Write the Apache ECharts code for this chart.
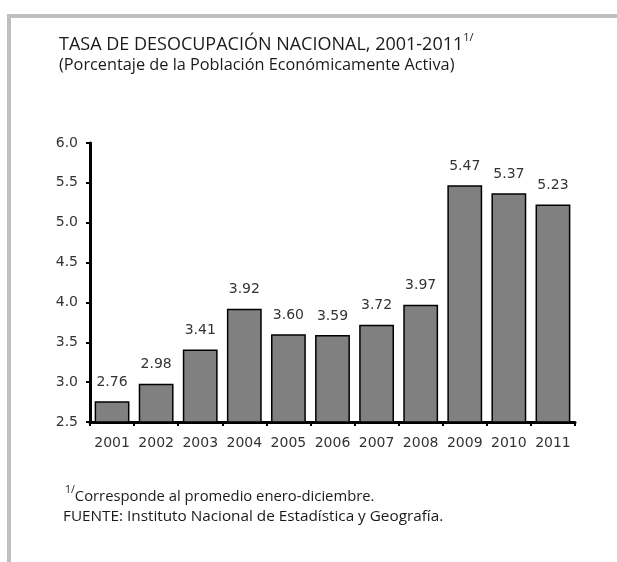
<!DOCTYPE html>
<html>
<head>
<meta charset="utf-8">
<script src="https://cdn.jsdelivr.net/npm/echarts@6/dist/echarts.min.js"></script>
<style>
html,body{margin:0;padding:0;background:#fff;}
#chart{width:617px;height:562px;}
</style>
</head>
<body>
<div id="chart"></div>
<script>
const categories = ['2001','2002','2003','2004','2005','2006','2007','2008','2009','2010','2011'];
const values = [2.76, 2.98, 3.41, 3.92, 3.60, 3.59, 3.72, 3.97, 5.47, 5.37, 5.23];
const titleText = 'TASA DE DESOCUPACIÓN NACIONAL, 2001-2011';
const subtitleText = '(Porcentaje de la Población Económicamente Activa)';
const noteText = 'Corresponde al promedio enero-diciembre.';
const sourceText = 'FUENTE: Instituto Nacional de Estadística y Geografía.';
const supText = '1/';

const textFont = '"Open Sans", sans-serif';
const axisFont = '"DejaVu Sans", sans-serif';

const chart = echarts.init(document.getElementById('chart'), null, {renderer: 'canvas'});
chart.setOption({
  backgroundColor: '#ffffff',
  animation: false,
  title: [
    {
      text: '{m|' + titleText + '}{s|' + supText + '}',
      left: 59, top: 32, padding: 0,
      textStyle: {
        fontWeight: 'normal',
        rich: {
          m: {fontFamily: textFont, fontSize: 18, fontWeight: 'normal', color: '#1a1a1a', lineHeight: 22, verticalAlign: 'bottom'},
          s: {fontFamily: textFont, fontSize: 11, fontWeight: 'normal', color: '#1a1a1a', lineHeight: 22, verticalAlign: 'top'}
        }
      }
    },
    {
      text: subtitleText,
      left: 59, top: 55, padding: 0,
      textStyle: {fontFamily: textFont, fontSize: 16.3, lineHeight: 20, fontWeight: 'normal', color: '#1a1a1a'}
    },
    {
      text: '{s|' + supText + '}{m|' + noteText + '}',
      left: 65, top: 485, padding: 0,
      textStyle: {
        fontWeight: 'normal',
        rich: {
          m: {fontFamily: textFont, fontSize: 14.8, fontWeight: 'normal', color: '#1a1a1a', lineHeight: 19, verticalAlign: 'bottom'},
          s: {fontFamily: textFont, fontSize: 10.5, fontWeight: 'normal', color: '#1a1a1a', lineHeight: 19, verticalAlign: 'top'}
        }
      }
    },
    {
      text: sourceText,
      left: 63, top: 507, padding: 0,
      textStyle: {fontFamily: textFont, fontSize: 15.3, lineHeight: 19, fontWeight: 'normal', color: '#1a1a1a'}
    }
  ],
  graphic: [
    {type: 'rect', shape: {x: 7, y: 14, width: 610, height: 4}, style: {fill: '#c0c0c0'}, silent: true},
    {type: 'rect', shape: {x: 7, y: 14, width: 4, height: 548}, style: {fill: '#c0c0c0'}, silent: true}
  ],
  grid: {left: 90, right: 42, top: 143, bottom: 140, containLabel: false},
  xAxis: {
    type: 'category',
    data: categories,
    axisLine: {lineStyle: {color: '#000', width: 3}},
    axisTick: {show: true, length: 4, lineStyle: {color: '#000', width: 2}},
    axisLabel: {interval: 0, color: '#333', fontFamily: axisFont, fontSize: 14, margin: 14}
  },
  yAxis: {
    type: 'value',
    min: 2.5, max: 6.0, interval: 0.5,
    axisLine: {show: true, lineStyle: {color: '#000', width: 3}},
    axisTick: {show: true, length: 4, lineStyle: {color: '#000', width: 2}},
    splitLine: {show: false},
    axisLabel: {color: '#333', fontFamily: axisFont, fontSize: 14, margin: 12,
      formatter: v => v.toFixed(1)}
  },
  series: [{
    type: 'bar',
    data: values,
    barCategoryGap: '21%',
    itemStyle: {color: '#808080', borderColor: '#000', borderWidth: 1.5},
    label: {show: true, position: 'top', distance: 12, color: '#333',
      fontFamily: axisFont, fontSize: 14, formatter: p => p.value.toFixed(2)}
  }]
});
</script>
</body>
</html>
